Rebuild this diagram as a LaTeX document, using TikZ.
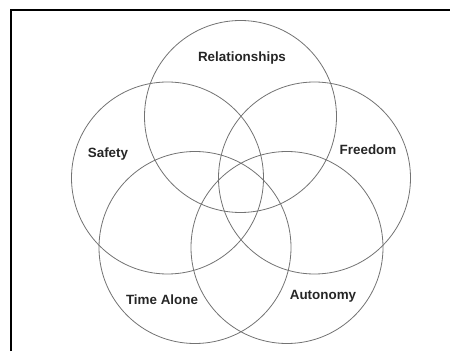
\documentclass[tikz,border=0pt]{standalone}
\usepackage{fontspec}
\setmainfont{Liberation Sans}

\tikzset{
  ring/.style={draw=black!55, line width=0.8pt},
  tag/.style={font=\fontsize{13.4}{15}\selectfont\bfseries, text=black!85},
}

\begin{document}
\begin{tikzpicture}[x=1pt,y=1pt]
   \useasboundingbox (0,0) rectangle (450,351);
   \draw[line width=2pt] (11,0) -- (11,341) -- (450,341);

   % five overlapping circles
   \node[ring, circle, minimum size=192pt, inner sep=0pt] (relations) at (240.5,234.5) {};
   \node[ring, circle, minimum size=192pt, inner sep=0pt] (safety)    at (167.5,173) {};
   \node[ring, circle, minimum size=192pt, inner sep=0pt] (freedom)   at (314.5,173) {};
   \node[ring, circle, minimum size=192pt, inner sep=0pt] (alone)     at (195,103.5) {};
   \node[ring, circle, minimum size=192pt, inner sep=0pt] (autonomy)  at (287,103.5) {};

   \node[tag] (relationsText) at (242,293) {Relationships};
   \node[tag] (safetyText)    at (108,197) {Safety};
   \node[tag] (freedomText)   at (368,201) {Freedom};
   \node[tag] (aloneText)     at (162,51)  {Time Alone};
   \node[tag] (autonomyText)  at (323,55)  {Autonomy};
\end{tikzpicture}
\end{document}
